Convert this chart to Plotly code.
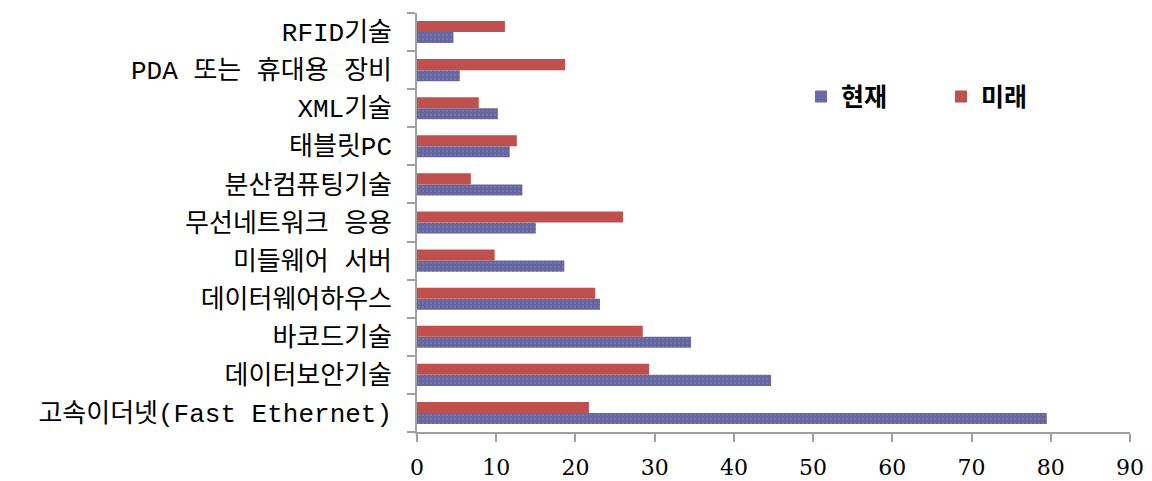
import plotly.graph_objects as go

categories = [
    "고속이더넷(Fast Ethernet)",
    "데이터보안기술",
    "바코드기술",
    "데이터웨어하우스",
    "미들웨어 서버",
    "무선네트워크 응용",
    "분산컴퓨팅기술",
    "태블릿PC",
    "XML기술",
    "PDA 또는 휴대용 장비",
    "RFID기술",
]
current_vals = [79.5, 44.7, 34.6, 23.1, 18.6, 15.0, 13.3, 11.7, 10.2, 5.4, 4.6]
future_vals = [21.7, 29.3, 28.5, 22.5, 9.8, 26.0, 6.8, 12.6, 7.8, 18.7, 11.1]
x_ticks = [0, 10, 20, 30, 40, 50, 60, 70, 80, 90]

LABEL_FONT = "Liberation Mono, Noto Sans CJK KR, monospace"
NUM_FONT = "DejaVu Serif, serif"

fig = go.Figure()
fig.add_trace(go.Bar(
    y=categories, x=current_vals, orientation="h", name="현재",
    marker=dict(color="#64649E", line=dict(width=0),
                pattern=dict(shape=".", fgcolor="#8686B8", size=4, solidity=0.3)),
))
fig.add_trace(go.Bar(
    y=categories, x=future_vals, orientation="h", name="미래",
    marker=dict(color="#C0504D", line=dict(width=0)),
))

fig.update_layout(
    width=1152, height=481,
    margin=dict(l=417, r=22, t=13, b=49),
    paper_bgcolor="white", plot_bgcolor="white",
    barmode="group", bargap=0.42, bargroupgap=0,
    showlegend=True,
    legend=dict(orientation="h", x=0.5386, y=0.80, xanchor="left", yanchor="middle",
                font=dict(family="Noto Sans CJK KR", size=25, color="black", weight="bold"),
                entrywidth=95, entrywidthmode="pixels",
                tracegroupgap=0, traceorder="normal",
                bgcolor="rgba(0,0,0,0)"),
    xaxis=dict(range=[0, 90], tickvals=x_ticks, showgrid=False, zeroline=False,
               showline=True, linecolor="#A0A0A0", linewidth=1.5,
               ticks="outside", ticklen=8, tickcolor="#A0A0A0", tickwidth=1.5,
               ticklabelstandoff=7, automargin=False,
               tickfont=dict(family=NUM_FONT, size=22, color="black")),
    yaxis=dict(showgrid=False, zeroline=False, showline=True, linecolor="#A0A0A0",
               linewidth=1.5, ticks="outside", ticklen=8, tickcolor="#A0A0A0",
               tickwidth=1.5, tickson="boundaries", ticklabelstandoff=18,
               automargin=False,
               categoryorder="array", categoryarray=categories,
               tickfont=dict(family=LABEL_FONT, size=26, color="black")),
)

fig.write_html("out.html")
